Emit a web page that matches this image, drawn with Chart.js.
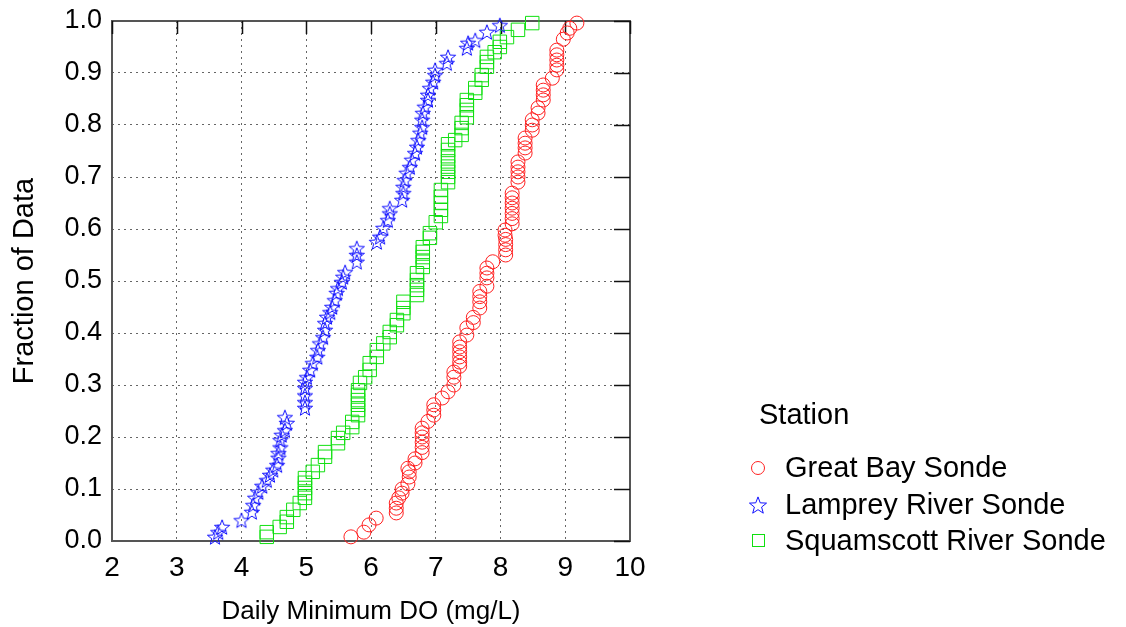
<!DOCTYPE html>
<html>
<head>
<meta charset="utf-8">
<script src="https://cdn.jsdelivr.net/npm/chart.js@4/dist/chart.umd.min.js"></script>
<style>
  html, body { margin: 0; padding: 0; background: #fff; }
  #wrap { width: 1126px; height: 627px; position: relative; }
</style>
</head>
<body>
<div id="wrap"><canvas id="cdf"></canvas></div>
<script>
// Great Bay Sonde
const greatBayX = [5.69,5.89,5.97,6.08,6.39,6.39,6.39,6.43,6.48,6.48,6.57,6.59,6.59,6.57,6.68,6.68,6.79,6.79,6.79,6.79,6.79,6.79,6.88,6.97,6.97,6.97,7.10,7.19,7.28,7.28,7.28,7.37,7.37,7.37,7.37,7.37,7.37,7.48,7.48,7.58,7.58,7.68,7.68,7.68,7.68,7.79,7.79,7.79,7.79,7.88,8.08,8.08,8.08,8.08,8.07,8.07,8.18,8.18,8.18,8.18,8.18,8.18,8.18,8.27,8.27,8.27,8.27,8.27,8.38,8.38,8.38,8.38,8.49,8.49,8.49,8.58,8.58,8.66,8.66,8.66,8.66,8.80,8.87,8.87,8.87,8.87,8.87,8.97,9.03,9.07,9.18];
const greatBayY = [0.008,0.017,0.031,0.044,0.054,0.063,0.073,0.083,0.092,0.100,0.110,0.123,0.133,0.140,0.150,0.158,0.170,0.180,0.190,0.200,0.208,0.217,0.230,0.242,0.252,0.262,0.275,0.287,0.300,0.315,0.325,0.336,0.344,0.354,0.364,0.373,0.383,0.396,0.410,0.420,0.430,0.448,0.460,0.470,0.480,0.490,0.506,0.515,0.525,0.537,0.550,0.560,0.570,0.580,0.588,0.598,0.610,0.620,0.630,0.640,0.650,0.660,0.669,0.690,0.700,0.710,0.719,0.729,0.746,0.756,0.765,0.775,0.790,0.800,0.810,0.823,0.833,0.848,0.858,0.867,0.877,0.890,0.906,0.915,0.925,0.935,0.944,0.965,0.977,0.986,0.996];

// Lamprey River Sonde
const lampreyX = [3.59,3.64,3.70,4.00,4.16,4.18,4.21,4.26,4.32,4.39,4.44,4.49,4.55,4.57,4.57,4.60,4.60,4.62,4.67,4.70,4.67,4.98,4.98,4.98,4.98,4.98,5.01,5.06,5.10,5.17,5.18,5.21,5.26,5.29,5.29,5.32,5.37,5.40,5.44,5.47,5.49,5.55,5.57,5.60,5.78,5.78,5.78,6.09,6.14,6.19,6.26,6.29,6.29,6.48,6.50,6.50,6.52,6.55,6.60,6.63,6.68,6.71,6.73,6.76,6.79,6.79,6.80,6.83,6.88,6.88,6.91,6.96,6.99,6.99,7.17,7.19,7.48,7.50,7.61,7.79,7.99];
const lampreyY = [0.008,0.017,0.027,0.040,0.056,0.069,0.083,0.094,0.106,0.117,0.127,0.137,0.146,0.160,0.169,0.180,0.194,0.204,0.213,0.227,0.238,0.256,0.267,0.280,0.294,0.306,0.315,0.329,0.342,0.354,0.367,0.380,0.392,0.406,0.419,0.431,0.440,0.450,0.463,0.477,0.486,0.498,0.508,0.517,0.537,0.550,0.563,0.575,0.585,0.602,0.617,0.630,0.640,0.656,0.669,0.681,0.694,0.708,0.719,0.733,0.746,0.758,0.771,0.785,0.796,0.810,0.823,0.835,0.848,0.858,0.871,0.883,0.896,0.906,0.919,0.931,0.948,0.958,0.963,0.979,0.992];

// Squamscott River Sonde
const squamscottX = [4.39,4.39,4.59,4.70,4.70,4.80,4.90,4.98,4.98,4.98,4.98,4.98,5.10,5.18,5.29,5.29,5.49,5.49,5.57,5.71,5.71,5.80,5.80,5.80,5.80,5.80,5.80,5.83,5.91,5.98,5.98,6.09,6.09,6.19,6.29,6.29,6.40,6.40,6.50,6.50,6.50,6.71,6.71,6.71,6.71,6.71,6.80,6.80,6.80,6.80,6.80,6.91,6.91,7.00,7.08,7.08,7.08,7.08,7.08,7.19,7.19,7.19,7.19,7.19,7.19,7.19,7.19,7.30,7.40,7.40,7.40,7.48,7.48,7.48,7.48,7.61,7.61,7.71,7.71,7.79,7.79,7.79,7.91,7.99,7.99,8.10,8.27,8.49];
const squamscottY = [0.008,0.017,0.027,0.037,0.046,0.060,0.073,0.083,0.092,0.102,0.112,0.121,0.133,0.146,0.162,0.171,0.188,0.198,0.208,0.219,0.229,0.242,0.252,0.262,0.271,0.281,0.290,0.304,0.315,0.329,0.342,0.354,0.367,0.380,0.392,0.402,0.415,0.425,0.438,0.448,0.460,0.473,0.483,0.492,0.502,0.515,0.527,0.537,0.546,0.556,0.565,0.583,0.592,0.613,0.625,0.637,0.650,0.662,0.675,0.690,0.700,0.710,0.720,0.730,0.740,0.752,0.763,0.771,0.781,0.794,0.804,0.815,0.829,0.838,0.848,0.862,0.871,0.887,0.896,0.912,0.921,0.931,0.940,0.950,0.960,0.969,0.983,0.996];

const stationNames = ['Great Bay Sonde', 'Lamprey River Sonde', 'Squamscott River Sonde'];
const xTicks = [2, 3, 4, 5, 6, 7, 8, 9, 10];
const yTicks = [0, 0.1, 0.2, 0.3, 0.4, 0.5, 0.6, 0.7, 0.8, 0.9, 1.0];

const FONT = 'Liberation Sans, Arial, sans-serif';

// five-pointed outline star used as point style
function makeStar(r, color) {
    const size = Math.ceil(r * 2 + 4);
    const c = document.createElement('canvas');
    c.width = size; c.height = size;
    const g = c.getContext('2d');
    const cx = size / 2, cy = size / 2 + r * 0.1;
    g.beginPath();
    for (let i = 0; i < 10; i++) {
        const rad = i % 2 === 0 ? r : r * 0.42;
        const a = -Math.PI / 2 + i * Math.PI / 5;
        const px = cx + rad * Math.cos(a), py = cy + rad * Math.sin(a);
        if (i === 0) g.moveTo(px, py); else g.lineTo(px, py);
    }
    g.closePath();
    g.strokeStyle = color;
    g.lineWidth = 1;
    g.stroke();
    return c;
}

const starPlot = makeStar(8, '#1010ff');
const starLegend = makeStar(9, '#1010ff');

const toPoints = (xs, ys) => xs.map((x, i) => ({ x: x, y: ys[i] }));

// frame, inner tick marks and legend
const decorations = {
    id: 'decorations',
    beforeDatasetsDraw(chart) {
        const { ctx, chartArea: a, scales } = chart;
        ctx.save();
        ctx.strokeStyle = '#555';
        ctx.lineWidth = 2;
        ctx.strokeRect(a.left, a.top, a.right - a.left, a.bottom - a.top);
        ctx.strokeStyle = '#111';
        ctx.lineWidth = 1.5;
        xTicks.forEach(v => {
            const px = Math.round(scales.x.getPixelForValue(v)) + 0.5;
            ctx.beginPath(); ctx.moveTo(px, a.top); ctx.lineTo(px, a.top + 13); ctx.stroke();
        });
        yTicks.forEach(v => {
            const py = Math.round(scales.y.getPixelForValue(v)) + 0.5;
            ctx.beginPath(); ctx.moveTo(a.right, py); ctx.lineTo(a.right - 16, py); ctx.stroke();
        });
        ctx.restore();
    },
    afterDatasetsDraw(chart) {
        const { ctx } = chart;
        ctx.save();
        // legend
        ctx.fillStyle = '#000';
        ctx.textBaseline = 'middle';
        ctx.textAlign = 'left';
        ctx.font = '29px ' + FONT;
        ctx.fillText('Station', 759, 416);
        const rows = [469, 506, 542];
        ctx.fillText(stationNames[0], 785, rows[0]);
        ctx.fillText(stationNames[1], 785, rows[1]);
        ctx.fillText(stationNames[2], 785, rows[2]);
        ctx.lineWidth = 1;
        ctx.strokeStyle = '#ff2020';
        ctx.beginPath(); ctx.arc(758, rows[0] - 1, 6.5, 0, Math.PI * 2); ctx.stroke();
        ctx.drawImage(starLegend, 758 - starLegend.width / 2, rows[1] - 1 - starLegend.height / 2);
        ctx.strokeStyle = '#10e010';
        ctx.strokeRect(752.5, rows[2] - 7.5, 12, 12);
        ctx.restore();
    }
};

new Chart(document.getElementById('cdf'), {
    type: 'scatter',
    data: {
        datasets: [
            {
                label: stationNames[0],
                data: toPoints(greatBayX, greatBayY),
                pointStyle: 'circle',
                pointRadius: 7,
                borderColor: '#ff2020',
                backgroundColor: 'rgba(0,0,0,0)',
                borderWidth: 1,
                clip: false
            },
            {
                label: stationNames[1],
                data: toPoints(lampreyX, lampreyY),
                pointStyle: starPlot,
                pointRadius: 8,
                borderColor: '#1010ff',
                backgroundColor: 'rgba(0,0,0,0)',
                borderWidth: 1,
                clip: false
            },
            {
                label: stationNames[2],
                data: toPoints(squamscottX, squamscottY),
                pointStyle: 'rect',
                pointRadius: 9.5,
                borderColor: '#10e010',
                backgroundColor: 'rgba(0,0,0,0)',
                borderWidth: 1,
                clip: false
            }
        ]
    },
    options: {
        responsive: true,
        maintainAspectRatio: false,
        animation: false,
        events: [],
        layout: { padding: { left: 0, top: 21, right: 496, bottom: 0 } },
        plugins: {
            legend: { display: false },
            tooltip: { enabled: false }
        },
        scales: {
            x: {
                type: 'linear',
                min: 2,
                max: 10,
                afterFit: s => { s.height = 86; s.paddingLeft = 0; s.paddingRight = 0; },
                afterBuildTicks: s => { s.ticks = xTicks.map(v => ({ value: v })); },
                ticks: {
                    color: '#000',
                    padding: 10,
                    font: { family: FONT, size: 28 },
                    callback: v => String(v)
                },
                grid: {
                    color: '#666',
                    lineWidth: 1,
                    drawTicks: false
                },
                border: { display: false, dash: [2, 4] },
                title: {
                    display: true,
                    text: 'Daily Minimum DO (mg/L)',
                    color: '#000',
                    font: { family: FONT, size: 26 },
                    padding: { top: 2, bottom: 0 }
                }
            },
            y: {
                type: 'linear',
                min: 0,
                max: 1,
                afterFit: s => { s.width = 112; s.paddingTop = 0; s.paddingBottom = 0; },
                afterBuildTicks: s => { s.ticks = yTicks.map(v => ({ value: v })); },
                ticks: {
                    color: '#000',
                    padding: 10,
                    font: { family: FONT, size: 27 },
                    callback: v => v.toFixed(1)
                },
                grid: {
                    color: '#666',
                    lineWidth: 1,
                    drawTicks: false
                },
                border: { display: false, dash: [2, 4] },
                title: {
                    display: true,
                    text: 'Fraction of Data',
                    color: '#000',
                    font: { family: FONT, size: 29 },
                    padding: { top: 8, bottom: 0 }
                }
            }
        }
    },
    plugins: [decorations]
});
</script>
</body>
</html>
